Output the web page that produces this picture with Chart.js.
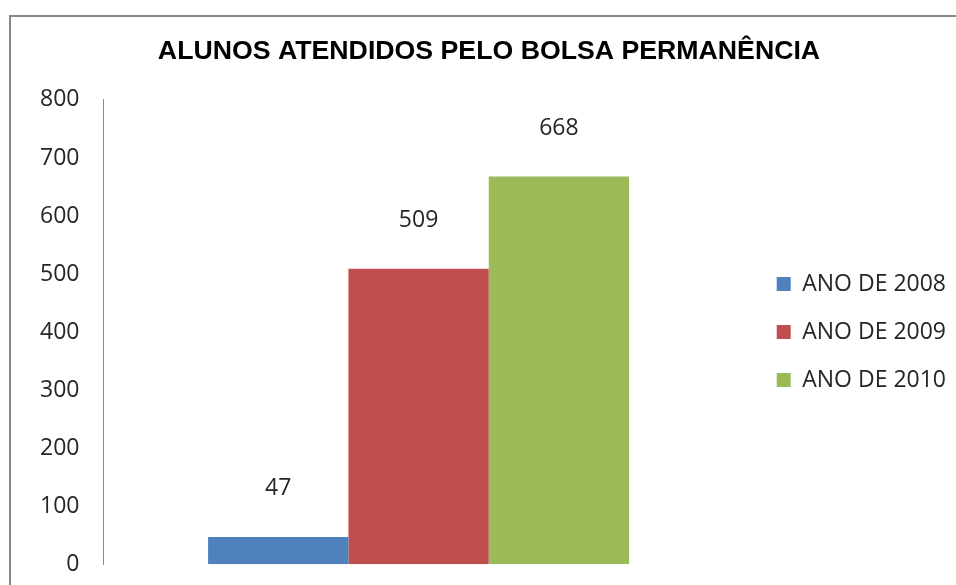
<!DOCTYPE html>
<html lang="pt">
  <head>
    <meta charset="UTF-8" />
    <title>Alunos atendidos pelo Bolsa Permanência</title>
    <script src="https://cdn.jsdelivr.net/npm/chart.js"></script>
    <style>
      body {
        margin: 0;
        padding: 0;
        background-color: #fff;
        overflow: hidden;
        width: 956px;
        height: 585px;
        position: relative;
      }
      #frame {
        position: absolute;
        left: 9px;
        top: 15px;
        width: 1000px;
        height: 620px;
        border-left: 2px solid #888;
        border-top: 2px solid #888;
      }
      #chartBox {
        position: absolute;
        left: 11px;
        top: 17px;
        width: 958px;
        height: 585px;
      }
    </style>
  </head>
  <body>
    <div id="frame"></div>
    <div id="chartBox">
      <canvas id="bolsaChart"></canvas>
    </div>

    <script>
      // Data
      const categories = [""];
      const seriesNames = ["ANO DE 2008", "ANO DE 2009", "ANO DE 2010"];
      const seriesValues = [[47], [509], [668]];
      const seriesColors = ["#4F81BD", "#C0504D", "#9BBB59"];
      const yTicks = [0, 100, 200, 300, 400, 500, 600, 700, 800];

      const textFont = "'Open Sans', 'DejaVu Sans', sans-serif";

      // Draw the value above each bar
      const valueLabels = {
        id: "valueLabels",
        afterDatasetsDraw(chart) {
          const ctx = chart.ctx;
          ctx.save();
          ctx.font = "23px " + textFont;
          ctx.fillStyle = "#262626";
          ctx.textAlign = "center";
          ctx.textBaseline = "middle";
          chart.data.datasets.forEach((ds, i) => {
            const meta = chart.getDatasetMeta(i);
            meta.data.forEach((bar, j) => {
              ctx.fillText(ds.data[j], bar.x, bar.y - 48);
            });
          });
          ctx.restore();
        },
      };

      const ctx = document.getElementById("bolsaChart").getContext("2d");
      new Chart(ctx, {
        type: "bar",
        data: {
          labels: categories,
          datasets: seriesNames.map((name, i) => ({
            label: name,
            data: seriesValues[i],
            backgroundColor: seriesColors[i],
            borderWidth: 0,
            barPercentage: 1,
            categoryPercentage: 0.668,
          })),
        },
        options: {
          responsive: true,
          maintainAspectRatio: false,
          animation: false,
          layout: {
            padding: { left: 11, right: 13, top: 0, bottom: 4 },
          },
          scales: {
            x: {
              display: false,
            },
            y: {
              min: 0,
              max: 800,
              afterBuildTicks: (axis) => {
                axis.ticks = yTicks.map((v) => ({ value: v }));
              },
              afterFit: (scale) => {
                scale.width -= 6;
              },
              grid: { display: false, drawTicks: false },
              border: { display: true, color: "#8c8c8c", width: 1 },
              ticks: {
                padding: 24,
                color: "#262626",
                font: { family: textFont, size: 23 },
              },
            },
            // hidden spacer between the plot and the legend
            spacer: {
              type: "linear",
              position: "right",
              display: false,
              afterFit: (scale) => {
                scale.width = 18;
              },
            },
          },
          plugins: {
            title: {
              display: true,
              text: "ALUNOS ATENDIDOS PELO BOLSA PERMANÊNCIA",
              color: "#000",
              font: {
                family: "'Liberation Sans', Arial, sans-serif",
                size: 26.7,
                weight: "bold",
              },
              padding: { top: 19, bottom: 31.9 },
            },
            legend: {
              position: "right",
              title: {
                display: true,
                text: "",
                font: { size: 12 },
                padding: { top: 0, bottom: 34.6 },
              },
              labels: {
                boxWidth: 14,
                boxHeight: 14,
                padding: 25,
                color: "#262626",
                font: { family: textFont, size: 23 },
              },
            },
            tooltip: { enabled: false },
          },
        },
        plugins: [valueLabels],
      });
    </script>
  </body>
</html>
